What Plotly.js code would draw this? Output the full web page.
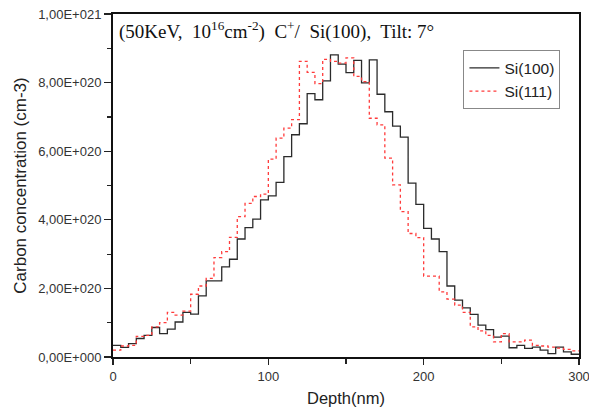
<!DOCTYPE html>
<html>
<head>
<meta charset="utf-8">
<script src="https://cdn.plot.ly/plotly-3.0.1.min.js"></script>
<style>html,body{margin:0;padding:0;background:#fff;}#chart{width:589px;height:412px;}</style>
</head>
<body>
<div id="chart"></div>
<script>
// Bin edges (nm), 5 nm bins; final edge 300 closes the last step
const depth = [0,5,10,15,20,25,30,35,40,45,50,55,60,65,70,75,80,85,90,95,
  100,105,110,115,120,125,130,135,140,145,150,155,160,165,170,175,180,185,190,195,
  200,205,210,215,220,225,230,235,240,245,250,255,260,265,270,275,280,285,290,295,300];

// Carbon concentration (cm-3) per bin
const si100 = [0.34e20,0.28e20,0.39e20,0.54e20,0.63e20,0.86e20,0.68e20,0.81e20,1.02e20,1.30e20,
  1.25e20,1.78e20,2.22e20,2.22e20,2.63e20,2.85e20,3.44e20,3.77e20,4.02e20,4.58e20,
  4.70e20,5.09e20,5.84e20,6.48e20,6.80e20,7.68e20,7.50e20,8.05e20,8.81e20,8.54e20,
  8.29e20,8.65e20,7.99e20,8.66e20,7.66e20,7.15e20,6.73e20,6.41e20,5.07e20,4.45e20,
  3.75e20,3.44e20,3.07e20,2.07e20,1.66e20,1.43e20,1.24e20,0.93e20,0.80e20,0.58e20,
  0.61e20,0.27e20,0.34e20,0.25e20,0.29e20,0.20e20,0.10e20,0.29e20,0.15e20,0.08e20,0.08e20];

const si111 = [0.20e20,0.32e20,0.34e20,0.60e20,0.63e20,0.88e20,1.00e20,1.30e20,1.22e20,1.34e20,
  1.83e20,2.07e20,2.29e20,2.90e20,3.07e20,3.49e20,4.09e20,4.48e20,4.68e20,4.75e20,
  5.77e20,6.38e20,6.67e20,6.92e20,8.62e20,8.30e20,7.97e20,8.68e20,8.62e20,8.57e20,
  8.72e20,8.18e20,8.03e20,6.96e20,6.77e20,5.80e20,5.02e20,4.24e20,3.60e20,3.48e20,
  2.36e20,2.36e20,1.90e20,1.69e20,1.51e20,1.30e20,0.88e20,0.76e20,0.63e20,0.44e20,
  0.68e20,0.44e20,0.44e20,0.49e20,0.34e20,0.32e20,0.29e20,0.26e20,0.22e20,0.18e20,0.18e20];

const seriesNames = ['Si(100)', 'Si(111)'];
const yTickVals = [0, 2e20, 4e20, 6e20, 8e20, 1e21];
const yTickText = ['0,00E+000','2,00E+020','4,00E+020','6,00E+020','8,00E+020','1,00E+021'];
const yMinorVals = [1e20, 3e20, 5e20, 7e20, 9e20];
const xTickVals = [0, 100, 200, 300];

const traces = [
  {x: depth, y: si100, name: seriesNames[0], type: 'scatter', mode: 'lines',
   line: {shape: 'hv', color: '#2b2b2b', width: 1.3}},
  {x: depth, y: si111, name: seriesNames[1], type: 'scatter', mode: 'lines',
   line: {shape: 'hv', color: '#ff3b3b', width: 1.3, dash: 'dot'}}
];

const sans = 'Liberation Sans, Arial, sans-serif';
const axisFont = {family: sans, size: 13, color: '#333'};

const layout = {
  width: 589, height: 412,
  margin: {l: 113, r: 10, t: 14, b: 55},
  paper_bgcolor: '#fff', plot_bgcolor: '#fff',
  showlegend: true,
  legend: {x: 0.752, y: 0.894, xanchor: 'left', yanchor: 'top',
    bordercolor: '#888', borderwidth: 1, bgcolor: '#fff',
    font: {family: sans, size: 15.5, color: '#222'},
    tracegroupgap: 0, itemwidth: 30},
  xaxis: {
    range: [0, 300], tickvals: xTickVals, ticks: 'outside', ticklen: 6, tickwidth: 1.2,
    tickcolor: '#222', showline: true, linecolor: '#111', linewidth: 2, mirror: true,
    showgrid: false, zeroline: false, tickfont: axisFont, ticklabeloverflow: 'allow',
    minor: {dtick: 50, tick0: 0, ticks: 'outside', ticklen: 5, tickcolor: '#222', showgrid: false},
    title: {text: 'Depth(nm)', font: {family: sans, size: 16.5, color: '#222'}, standoff: 10}
  },
  yaxis: {
    range: [0, 1e21], tickvals: yTickVals, ticktext: yTickText, ticks: 'outside', ticklen: 7, tickwidth: 1.2,
    tickcolor: '#222', showline: true, linecolor: '#111', linewidth: 2, mirror: true,
    showgrid: false, zeroline: false, tickfont: axisFont,
    minor: {tickvals: yMinorVals, ticks: 'outside', ticklen: 4, tickcolor: '#222', showgrid: false},
    title: {text: 'Carbon concentration (cm-3)', font: {family: sans, size: 17, color: '#222'}, standoff: 7}
  },
  annotations: [{
    xref: 'paper', yref: 'paper', x: 0.008, y: 0.952, xanchor: 'left', yanchor: 'middle',
    showarrow: false,
    text: '(50KeV,  10<sup>16</sup>cm<sup>-2</sup>)  C<sup>+</sup>/  Si(100),  Tilt: 7°',
    font: {family: 'Liberation Serif, Times New Roman, serif', size: 19, color: '#111'}
  }]
};

Plotly.newPlot('chart', traces, layout, {displayModeBar: false, staticPlot: true});
</script>
</body>
</html>
